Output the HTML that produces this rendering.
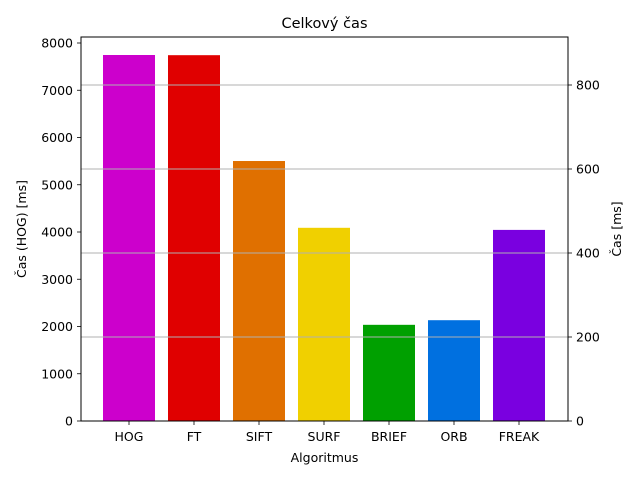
<!DOCTYPE html>
<html><head><meta charset="utf-8"><style>
body{margin:0;background:#fff;}
svg{display:block;font-family:"DejaVu Sans","Liberation Sans",sans-serif;}
</style></head><body>
<svg id="chart" width="640" height="480" xmlns="http://www.w3.org/2000/svg">
<rect width="640" height="480" fill="#fff"/>
<text x="324.5" y="28" text-anchor="middle" font-size="14.5">Celkový čas</text>
<g id="bars"></g><g id="grid"></g><g id="axes"></g>
</svg>
<script>
const categories=["HOG","FT","SIFT","SURF","BRIEF","ORB","FREAK"];
const colors=["#cc00cc","#e00000","#e07000","#f0d000","#00a000","#0070e0","#7a00e0"];
const hogValue=7746;
const msValues=[null,871,619,460,229,240,455];
const leftTicks=[0,1000,2000,3000,4000,5000,6000,7000,8000];
const rightTicks=[0,200,400,600,800];
const NS="http://www.w3.org/2000/svg";
const L=81,R=568,T=37,B=421;
const yL=v=>B-v*0.04725;
const yR=v=>B-v*0.42;
const xC=i=>129+65*i;
const bw=52;
function mk(tag,attrs,parent,txt){const e=document.createElementNS(NS,tag);for(const k in attrs)e.setAttribute(k,attrs[k]);if(txt!==undefined)e.textContent=txt;parent.appendChild(e);return e;}
const gb=document.getElementById('bars'),gg=document.getElementById('grid'),ga=document.getElementById('axes');
categories.forEach((c,i)=>{
  const top=i===0?yL(hogValue):yR(msValues[i]);
  const r=mk('rect',{x:xC(i)-bw/2,y:top,width:bw,height:B-top,fill:colors[i]},gb);
  
  
  mk('line',{x1:xC(i),x2:xC(i),y1:B,y2:B+4,stroke:'#000','stroke-width':0.8},ga);
  const t=mk('text',{x:xC(i),y:B+20,'text-anchor':'middle','font-size':12.5},ga,c);
  
  
});
rightTicks.forEach(v=>{
  if(v>0){mk('line',{x1:L,x2:R,y1:yR(v),y2:yR(v),stroke:'#b0b0b0','stroke-width':1},gg);}
  mk('line',{x1:R,x2:R+4,y1:yR(v),y2:yR(v),stroke:'#000','stroke-width':0.8},ga);
  const t=mk('text',{x:R+8,y:yR(v)+4.5,'font-size':12.5},ga,v);
  
  
});
leftTicks.forEach(v=>{
  mk('line',{x1:L-4,x2:L,y1:yL(v),y2:yL(v),stroke:'#000','stroke-width':0.8},ga);
  const t=mk('text',{x:L-8,y:yL(v)+4.5,'text-anchor':'end','font-size':12.5},ga,v);
  
  
});
const fr=mk('rect',{x:L,y:T,width:R-L,height:B-T,fill:'none',stroke:'#000','stroke-width':1},ga);


const xt=mk('text',{x:324.5,y:462,'text-anchor':'middle','font-size':12.5},ga,'Algoritmus');


const yt=mk('text',{x:26,y:229,'text-anchor':'middle','font-size':12.5,transform:'rotate(-90 26 229)'},ga,'Čas (HOG) [ms]');


const yt2=mk('text',{x:621,y:229,'text-anchor':'middle','font-size':12.5,transform:'rotate(-90 621 229)'},ga,'Čas [ms]');


</script>
</body></html>
